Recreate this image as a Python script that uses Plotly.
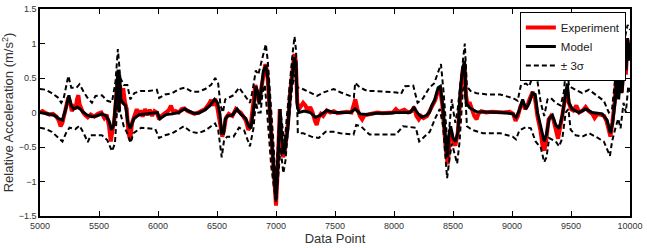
import plotly.graph_objects as go

# ---------------- data ----------------
model_x = [5000,5040,5080,5120,5160,5190,5215,5245,5265,5285,5315,5340,5370,5400,5440,5480,5525,5560,5585,5605,5625,5640,5655,5662,5668,5675,5685,5700,5725,5745,5765,5795,5840,5900,5960,5995,6015,6040,6070,6120,6175,6225,6260,6300,6345,6400,6440,6480,6505,6525,6540,6556,6570,6590,6630,6670,6700,6745,6770,6787,6810,6830,6845,6858,6872,6893,6913,6933,6950,6970,6990,7000,7011,7022,7034,7045,7062,7073,7085,7100,7118,7140,7157,7169,7180,7195,7240,7290,7335,7375,7430,7490,7545,7630,7671,7713,7770,7850,7950,8020,8100,8135,8169,8205,8235,8275,8300,8320,8346,8374,8393,8416,8438,8452,8466,8480,8500,8522,8542,8562,8584,8598,8612,8640,8700,8810,8920,9006,9034,9062,9090,9118,9146,9174,9197,9216,9244,9273,9292,9315,9343,9371,9399,9427,9455,9469,9483,9511,9567,9624,9680,9764,9806,9834,9854,9876,9890,9904,9918,9932,9955,9966,9980,9990,10000]
model_y = [0.00,-0.01,-0.02,-0.04,-0.09,-0.11,0.03,0.25,0.10,0.05,0.08,0.05,0.00,-0.04,-0.06,-0.05,-0.02,-0.05,-0.12,-0.25,-0.18,0.15,0.55,0.62,0.00,0.55,0.20,0.14,0.10,-0.15,-0.23,-0.09,-0.03,-0.02,-0.01,0.00,-0.09,-0.06,-0.03,-0.02,0.00,0.05,0.02,-0.01,-0.01,0.04,0.10,0.19,0.14,-0.02,-0.30,-0.30,-0.10,-0.05,-0.04,0.05,-0.02,-0.09,-0.20,-0.23,0.05,0.38,0.30,0.12,0.28,0.60,0.68,0.47,-0.09,-0.56,-1.07,-1.26,-0.93,-0.42,0.05,-0.28,-0.60,-0.56,-0.42,-0.25,0.24,0.61,0.80,0.70,0.10,0.00,0.02,0.00,-0.07,-0.04,0.03,0.00,0.00,0.00,0.05,-0.02,-0.03,-0.01,-0.01,0.00,0.00,0.00,0.07,-0.02,-0.07,-0.04,0.00,0.10,0.19,0.36,0.38,0.05,-0.42,-0.65,-0.32,-0.20,-0.37,-0.42,-0.28,0.33,0.64,0.75,0.14,0.07,0.01,0.00,0.00,-0.02,-0.07,0.03,0.19,0.05,0.14,0.28,0.26,0.00,-0.23,-0.42,-0.32,-0.09,-0.04,-0.18,-0.23,-0.04,0.28,0.42,0.14,0.05,0.00,0.05,0.00,-0.02,-0.11,-0.30,-0.14,0.19,0.60,0.19,0.61,0.28,0.85,0.61,1.08,0.75,1.00]

upper_x = [5000,5050,5100,5150,5180,5200,5240,5265,5310,5335,5370,5400,5440,5470,5525,5570,5610,5640,5660,5680,5710,5740,5765,5800,5850,5920,5990,6010,6060,6120,6180,6230,6290,6340,6400,6450,6485,6510,6530,6550,6570,6600,6640,6687,6720,6760,6779,6800,6829,6850,6870,6890,6914,6930,6950,6975,6990,7000,7012,7025,7039,7055,7073,7090,7110,7124,7140,7157,7170,7180,7200,7240,7290,7348,7400,7489,7550,7629,7660,7671,7700,7750,7784,7850,7950,8022,8060,8093,8163,8200,8244,8300,8340,8370,8398,8420,8440,8455,8475,8490,8505,8520,8540,8570,8600,8618,8650,8700,8800,8900,9006,9048,9076,9118,9146,9188,9216,9244,9273,9301,9329,9371,9413,9440,9462,9483,9540,9595,9652,9708,9778,9820,9848,9876,9890,9904,9918,9932,9961,9980,10000]
upper_y = [0.34,0.33,0.28,0.22,0.14,0.20,0.53,0.36,0.36,0.41,0.30,0.22,0.14,0.24,0.25,0.17,0.15,0.45,0.92,0.50,0.40,0.40,0.19,0.28,0.31,0.31,0.33,0.21,0.26,0.28,0.34,0.36,0.30,0.30,0.34,0.40,0.50,0.42,0.10,0.00,0.19,0.22,0.25,0.36,0.28,0.18,0.14,0.30,0.61,0.55,0.68,0.85,0.99,0.75,0.30,-0.35,-0.80,-1.00,-0.60,-0.22,0.00,-0.20,-0.45,-0.10,0.30,0.61,0.85,1.10,0.90,0.36,0.36,0.33,0.29,0.24,0.29,0.34,0.29,0.24,0.22,0.43,0.38,0.33,0.31,0.31,0.30,0.29,0.27,0.38,0.39,0.14,0.20,0.36,0.42,0.55,0.70,0.30,-0.20,-0.50,-0.10,0.19,0.00,-0.15,0.05,0.55,1.00,0.38,0.31,0.28,0.26,0.26,0.21,0.17,0.40,0.42,0.38,0.59,0.45,0.14,-0.05,0.19,0.21,0.14,0.10,0.30,0.77,0.38,0.33,0.28,0.33,0.26,0.17,0.00,0.05,0.52,0.85,0.60,0.90,0.70,1.12,1.27,1.20]

lower_x = [5000,5050,5100,5150,5190,5220,5250,5300,5335,5370,5405,5430,5470,5525,5570,5610,5635,5650,5665,5680,5710,5740,5767,5792,5857,5977,6009,6060,6120,6220,6280,6340,6400,6450,6484,6510,6540,6560,6587,6640,6687,6730,6779,6809,6829,6850,6870,6885,6905,6925,6941,6960,7000,7011,7039,7062,7080,7110,7138,7160,7175,7185,7230,7300,7362,7420,7489,7545,7657,7680,7720,7793,7900,8016,8075,8185,8213,8260,8303,8353,8388,8416,8450,8472,8490,8514,8535,8556,8584,8600,8618,8660,8753,8900,9006,9034,9062,9118,9160,9200,9244,9273,9292,9315,9371,9399,9427,9455,9478,9497,9540,9595,9652,9708,9778,9830,9848,9876,9900,9920,9945,9965,9985,10000]
lower_y = [-0.22,-0.24,-0.28,-0.35,-0.42,-0.30,-0.22,-0.24,-0.19,-0.30,-0.43,-0.33,-0.33,-0.33,-0.40,-0.56,-0.45,-0.10,0.35,0.00,-0.20,-0.30,-0.44,-0.30,-0.22,-0.24,-0.37,-0.33,-0.30,-0.20,-0.28,-0.30,-0.26,-0.20,-0.16,-0.25,-0.65,-0.40,-0.35,-0.35,-0.22,-0.26,-0.49,-0.23,0.15,0.00,0.00,0.28,0.40,0.00,-0.32,-0.79,-1.31,-1.08,-0.51,-0.88,-0.70,-0.09,0.38,0.55,0.40,-0.30,-0.30,-0.35,-0.37,-0.28,-0.28,-0.30,-0.32,-0.18,-0.20,-0.32,-0.32,-0.32,-0.20,-0.22,-0.42,-0.35,-0.28,-0.07,0.05,-0.20,-0.95,-0.65,-0.45,-0.60,-0.74,-0.42,0.33,0.40,-0.20,-0.25,-0.30,-0.30,-0.35,-0.39,-0.26,-0.21,-0.23,-0.42,-0.51,-0.72,-0.65,-0.37,-0.42,-0.49,-0.37,0.00,0.05,-0.25,-0.33,-0.35,-0.30,-0.35,-0.42,-0.63,-0.42,-0.23,-0.09,-0.23,0.14,0.00,0.38,0.30]

exp_x = [5000,5020,5050,5080,5110,5140,5160,5175,5190,5205,5220,5240,5255,5270,5285,5300,5315,5325,5335,5350,5365,5385,5405,5430,5460,5490,5520,5545,5565,5585,5600,5615,5630,5645,5655,5662,5668,5678,5690,5705,5720,5735,5750,5765,5780,5800,5820,5835,5850,5870,5890,5910,5930,5950,5970,5990,6010,6030,6060,6090,6110,6130,6150,6175,6200,6225,6250,6280,6310,6340,6370,6400,6430,6450,6470,6485,6500,6515,6530,6545,6560,6575,6600,6630,6660,6680,6700,6720,6745,6765,6785,6805,6825,6840,6855,6870,6890,6910,6925,6940,6955,6970,6985,7000,7010,7020,7032,7045,7060,7075,7090,7105,7120,7140,7155,7168,7180,7195,7215,7230,7250,7270,7290,7310,7330,7345,7360,7380,7400,7430,7460,7490,7520,7550,7600,7640,7660,7672,7690,7710,7730,7750,7780,7820,7860,7900,7950,7990,8016,8040,8087,8120,8150,8170,8190,8210,8230,8250,8280,8300,8325,8350,8370,8390,8410,8425,8440,8455,8465,8480,8500,8520,8540,8560,8580,8598,8610,8625,8640,8660,8680,8700,8715,8740,8780,8830,8880,8930,8980,9010,9030,9050,9070,9090,9110,9130,9150,9175,9195,9215,9240,9260,9275,9290,9310,9330,9350,9370,9390,9410,9430,9450,9465,9480,9500,9520,9545,9570,9600,9624,9650,9680,9700,9720,9750,9780,9800,9820,9834,9850,9870,9885,9900,9915,9930,9950,9965,9980,9990,10000]
exp_y = [0.00,0.02,-0.01,-0.03,-0.02,-0.06,-0.12,-0.20,-0.15,-0.05,0.05,0.22,0.15,0.02,0.08,0.05,0.20,0.25,0.12,0.05,0.00,-0.04,-0.07,-0.03,-0.06,-0.02,0.00,-0.08,-0.03,-0.20,-0.42,-0.25,-0.10,0.20,0.50,0.55,0.05,0.40,0.20,0.35,0.15,0.05,-0.30,-0.40,-0.15,-0.05,0.05,-0.05,0.03,-0.06,0.05,-0.04,0.04,-0.05,0.02,0.00,-0.10,-0.05,-0.01,0.03,0.10,0.00,0.02,0.00,0.05,0.06,0.02,0.00,-0.02,0.00,0.03,0.05,0.12,0.18,0.10,0.20,0.10,-0.02,-0.20,-0.35,-0.25,-0.08,-0.02,-0.05,0.05,0.02,0.00,-0.05,-0.12,-0.25,-0.20,0.10,0.40,0.25,0.15,0.30,0.55,0.70,0.60,0.20,-0.20,-0.65,-1.10,-1.35,-1.00,-0.50,0.05,-0.40,-0.65,-0.55,-0.35,-0.10,0.30,0.60,0.85,0.75,0.15,0.05,0.10,0.14,0.10,0.02,0.08,0.00,-0.12,-0.18,-0.08,-0.02,-0.05,0.03,0.00,0.02,-0.01,0.00,0.01,0.00,0.15,0.19,0.05,-0.05,-0.10,-0.04,-0.03,-0.02,0.00,-0.01,0.00,0.00,0.05,0.01,0.04,0.00,0.02,0.08,-0.05,-0.10,-0.05,-0.08,-0.05,0.02,0.12,0.18,0.30,0.35,0.10,-0.25,-0.55,-0.75,-0.45,-0.25,-0.40,-0.48,-0.30,0.25,0.60,0.70,0.25,0.10,0.15,0.05,-0.05,-0.10,-0.02,0.02,0.00,0.01,0.00,0.00,0.01,-0.02,-0.12,-0.05,0.08,0.15,0.05,0.10,0.20,0.30,0.20,-0.05,-0.25,-0.50,-0.55,-0.40,-0.10,-0.05,-0.10,-0.25,-0.38,-0.20,0.00,0.25,0.35,0.15,0.05,0.03,0.10,0.00,0.03,0.08,0.02,-0.02,-0.08,-0.03,-0.03,-0.05,-0.12,-0.25,-0.35,-0.15,0.15,0.55,0.25,0.50,0.30,0.75,0.55,1.05,0.90,0.95]

x_ticks = [5000, 5500, 6000, 6500, 7000, 7500, 8000, 8500, 9000, 9500, 10000]
y_ticks = [-1.5, -1, -0.5, 0, 0.5, 1, 1.5]

FONT = "Arial, Liberation Sans, Helvetica, sans-serif"

fig = go.Figure()
fig.add_trace(go.Scatter(x=exp_x, y=exp_y, mode="lines", name="Experiment",
                         line=dict(color="#ff0000", width=4)))
fig.add_trace(go.Scatter(x=model_x, y=model_y, mode="lines", name="Model",
                         line=dict(color="black", width=3)))
fig.add_trace(go.Scatter(x=upper_x, y=upper_y, mode="lines", name="± 3σ",
                         line=dict(color="black", width=2, dash="5px,3px")))
fig.add_trace(go.Scatter(x=lower_x, y=lower_y, mode="lines", name="± 3σ",
                         showlegend=False,
                         line=dict(color="black", width=2, dash="5px,3px")))

axis_common = dict(showgrid=False, zeroline=False, showline=True, linecolor="black",
                   linewidth=1.5, mirror="ticks", ticks="inside", ticklen=5,
                   tickcolor="black", tickwidth=1,
                   tickfont=dict(family=FONT, size=9, color="#333333"))

fig.update_layout(
    width=647, height=248,
    margin=dict(l=40, r=14, t=4, b=31),
    paper_bgcolor="white", plot_bgcolor="white",
    font=dict(family=FONT, color="#333333"),
    showlegend=True,
    legend=dict(x=0.993, y=0.986, xanchor="right", yanchor="top",
                bgcolor="white", bordercolor="black", borderwidth=1,
                font=dict(family=FONT, size=11.5, color="#222222"),
                tracegroupgap=0, itemwidth=30),
    xaxis=dict(range=[5000, 10000], tickvals=x_ticks, tickformat="d",
               title=dict(text="Data Point", font=dict(family=FONT, size=13, color="#333333"),
                          standoff=4),
               **axis_common),
    yaxis=dict(range=[-1.5, 1.5], tickvals=y_ticks,
               title=dict(text="Relative Acceleration (m/s<sup>2</sup>)",
                          font=dict(family=FONT, size=13, color="#333333"), standoff=3),
               **axis_common),
)

fig.write_html("out.html", config={"displayModeBar": False})
